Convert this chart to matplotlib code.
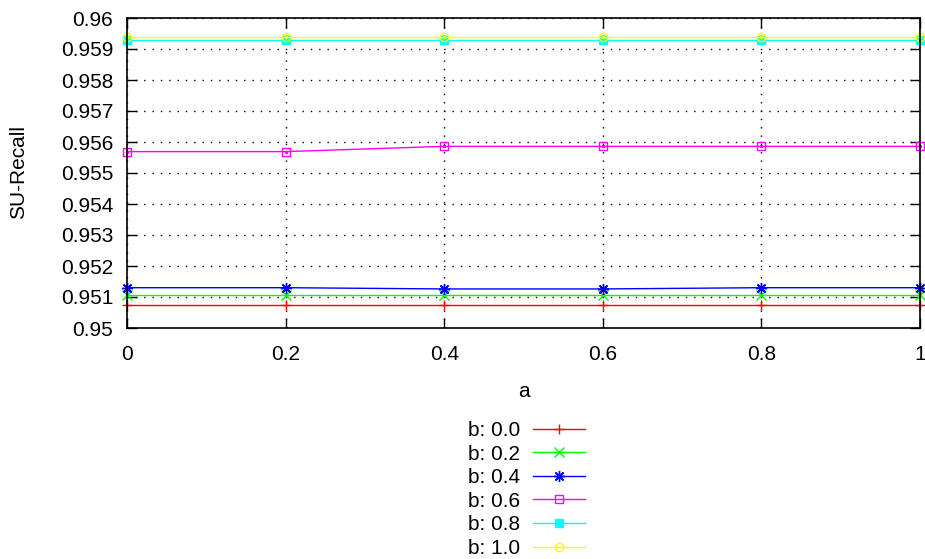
import numpy as np
import matplotlib.pyplot as plt

plt.rcParams['font.family'] = ['Liberation Sans', 'DejaVu Sans']

#---------------------Data---------------------
a_vals = [0.0, 0.2, 0.4, 0.6, 0.8, 1.0]
recall_b00 = [0.95074, 0.95074, 0.95074, 0.95074, 0.95074, 0.95074]
recall_b02 = [0.95106, 0.95106, 0.95106, 0.95106, 0.95106, 0.95106]
recall_b04 = [0.95130, 0.95130, 0.95126, 0.95126, 0.95130, 0.95130]
recall_b06 = [0.95569, 0.95569, 0.95586, 0.95586, 0.95586, 0.95586]
recall_b08 = [0.95929, 0.95929, 0.95929, 0.95929, 0.95929, 0.95929]
recall_b10 = [0.95940, 0.95940, 0.95940, 0.95940, 0.95940, 0.95940]
labels = ['b: 0.0', 'b: 0.2', 'b: 0.4', 'b: 0.6', 'b: 0.8', 'b: 1.0']
x_ticks = [0, 0.2, 0.4, 0.6, 0.8, 1]
x_ticklabels = ['0', '0.2', '0.4', '0.6', '0.8', '1']
y_ticks = [0.95, 0.951, 0.952, 0.953, 0.954, 0.955, 0.956, 0.957, 0.958, 0.959, 0.96]
y_ticklabels = ['0.95', '0.951', '0.952', '0.953', '0.954', '0.955',
                '0.956', '0.957', '0.958', '0.959', '0.96']

#---------------------Plot---------------------
W, H = 925, 559
FS = 15
fig = plt.figure(figsize=(W/100, H/100), dpi=100)
ax = fig.add_axes([127/W, 1-328/H, (920-127)/W, (328-18)/H])

series = [recall_b00, recall_b02, recall_b04, recall_b06, recall_b08, recall_b10]
colors = ['#ff0000', '#00ff00', '#0000ff', '#ff00ff', '#00ffff', '#ffff00']
markers = ['+', 'x', (8, 2, 0), 's', 's', 'o']
mfc = ['none', 'none', 'none', 'none', '#00ffff', 'none']
msize = [7, 6.5, 8, 6, 6, 6]

handles = []
for i in range(len(series)):
    h, = ax.plot(a_vals, series[i], color=colors[i], lw=1.0, marker=markers[i],
                 ms=msize[i], mfc=mfc[i], mec=colors[i], mew=1.0, clip_on=False,
                 label=labels[i])
    # open point types get a centre dot
    if i in (3, 5):
        ax.plot(a_vals, series[i], ls='none', marker='o', ms=1.5,
                color=colors[i], clip_on=False)
    handles.append(h)

ax.set_xlim(0, 1)
ax.set_ylim(0.95, 0.96)
ax.set_xticks(x_ticks)
ax.set_xticklabels(x_ticklabels)
ax.set_yticks(y_ticks)
ax.set_yticklabels(y_ticklabels)
ax.tick_params(direction='in', length=7, width=1, labelsize=FS,
               top=True, right=True)
ax.tick_params(axis='x', pad=12)
ax.tick_params(axis='y', pad=10)
ax.grid(True, color='black', linestyle=(0, (1, 5)), lw=1)
for s in ax.spines.values():
    s.set_linewidth(1.2)

ax.set_xlabel('a', fontsize=FS, labelpad=13)
fig.text(19/W, 1-172/H, 'SU-Recall', rotation=90, fontsize=FS,
         ha='center', va='center')

fig.legend(handles=handles, loc='upper left', bbox_to_anchor=(468/W, 1-421/H),
           frameon=False, fontsize=FS, markerfirst=False, handlelength=2.5,
           handletextpad=0.63, labelspacing=0.22, borderpad=0, borderaxespad=0)

fig.savefig('out.png', dpi=100)
